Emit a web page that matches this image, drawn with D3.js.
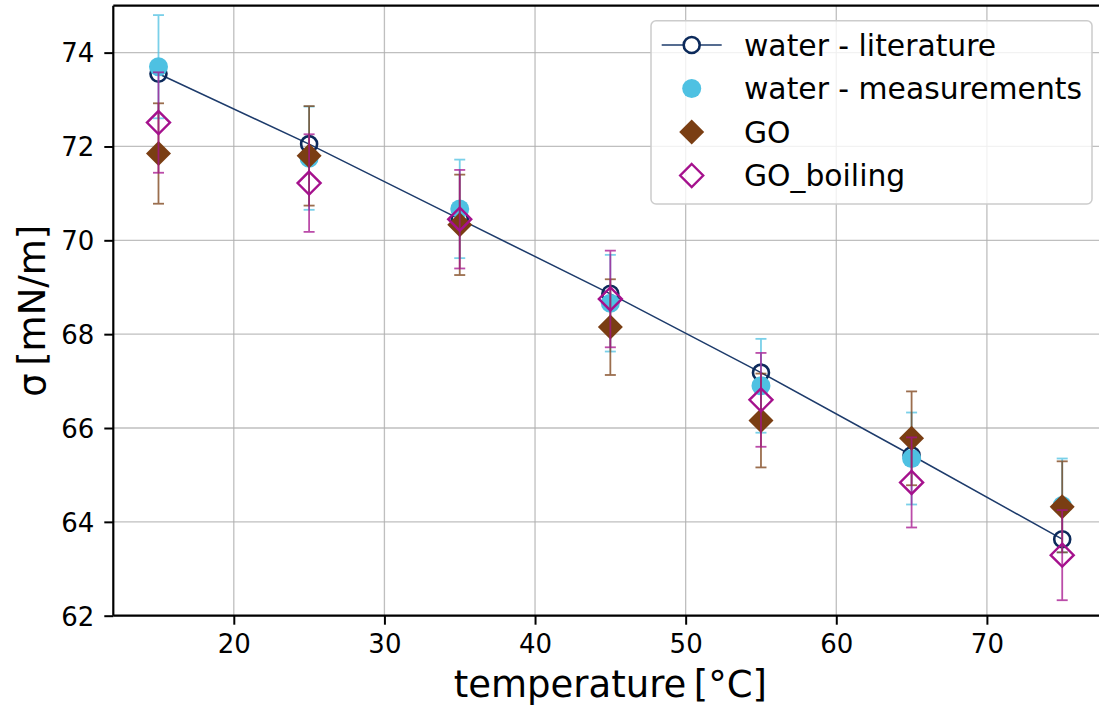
<!DOCTYPE html>
<html><head><meta charset="utf-8">
<script src="https://cdn.jsdelivr.net/npm/d3@7"></script>
<style>body{margin:0;background:#fff}svg{display:block;font-family:"DejaVu Sans",sans-serif}</style>
</head><body><svg id="c" width="1099" height="711"></svg>
<script>
const temps = [15,25,35,45,55,65,75];
const literature = [73.55,72.05,70.45,68.86,67.18,65.42,63.63];
const measurements = [73.70,71.75,70.67,68.66,66.90,65.35,64.35];
const measErr = [1.10,1.10,1.05,1.03,1.00,0.98,1.00];
const go = [71.85,71.80,70.33,68.15,66.16,65.78,64.32];
const goErr = [1.07,1.06,1.07,1.02,1.00,1.00,0.97];
const goBoiling = [72.51,71.22,70.45,68.75,66.60,64.84,63.29];
const goBoilingErr = [1.07,1.04,1.05,1.03,1.00,0.96,0.96];
const xTicks = [20,30,40,50,60,70];
const yTicks = [62,64,66,68,70,72,74];
const legendLabels = ["water - literature","water - measurements","GO","GO_boiling"];

const C = {navy:"#0c2a5b", line:"#1d3b6b", blue:"#4ec1e2", brown:"#7a3e13", mag:"#a5118d"};
const svg = d3.select("#c");
const L=113.3, R=1107.4, T=5.7, B=615.7;
const x = d3.scaleLinear().domain([12,78]).range([L,R]);
const y = d3.scaleLinear().domain([62,75]).range([B,T]);

// grid
const g = svg.append("g");
g.selectAll(".gx").data(xTicks).join("line").attr("x1",d=>x(d)).attr("x2",d=>x(d)).attr("y1",T).attr("y2",B)
 .attr("stroke","#b0b0b0").attr("stroke-width",1.3).attr("opacity",0.8);
g.selectAll(".gy").data(yTicks).join("line").attr("y1",d=>y(d)).attr("y2",d=>y(d)).attr("x1",L).attr("x2",R)
 .attr("stroke","#b0b0b0").attr("stroke-width",1.3).attr("opacity",0.8);

// axes
const xAxis = d3.axisBottom(x).tickValues(xTicks).tickSize(9).tickPadding(10).tickFormat(d3.format("d"));
const yAxis = d3.axisLeft(y).tickValues(yTicks).tickSize(9).tickPadding(10).tickFormat(d3.format("d"));
const ax = svg.append("g").attr("transform",`translate(0,${B})`).call(xAxis);
const ay = svg.append("g").attr("transform",`translate(${L},0)`).call(yAxis);
[ax,ay].forEach(a=>{
  a.select(".domain").remove();
  a.selectAll(".tick line").attr("stroke","#000").attr("stroke-width",2);
  a.selectAll(".tick text").attr("fill","#000").attr("font-size",26).attr("font-family","DejaVu Sans");
});
ay.selectAll(".tick text").attr("dy","0.36em");
// spines
svg.append("line").attr("x1",L).attr("x2",L).attr("y1",T).attr("y2",B).attr("stroke","#000").attr("stroke-width",2.2);
svg.append("line").attr("x1",L).attr("x2",R).attr("y1",B).attr("y2",B).attr("stroke","#000").attr("stroke-width",2.2);
svg.append("line").attr("x1",L).attr("x2",R).attr("y1",T).attr("y2",T).attr("stroke","#000").attr("stroke-width",2.2);

// axis labels
svg.append("text").attr("x",(L+R)/2).attr("y",697).attr("text-anchor","middle").attr("font-size",37).text("temperature\u2009[°C]");
svg.append("text").attr("transform",`translate(45,${(T+B)/2}) rotate(-90)`).attr("text-anchor","middle").attr("font-size",37).text("σ\u2009[mN/m]");

const plot = svg.append("g");
const idx = d3.range(temps.length);

// literature
plot.append("path").datum(idx).attr("fill","none").attr("stroke",C.line).attr("stroke-width",1.5)
 .attr("d",d3.line().x(i=>x(temps[i])).y(i=>y(literature[i])));
plot.selectAll(".lit").data(idx).join("circle").attr("cx",i=>x(temps[i])).attr("cy",i=>y(literature[i])).attr("r",8)
 .attr("fill","none").attr("stroke",C.navy).attr("stroke-width",2.6);

function errorbars(vals, errs, color){
  const eg = plot.append("g").attr("stroke",color).attr("opacity",0.75);
  eg.selectAll("line.v").data(idx).join("line").attr("x1",i=>x(temps[i])).attr("x2",i=>x(temps[i]))
    .attr("y1",i=>y(vals[i]-errs[i])).attr("y2",i=>y(vals[i]+errs[i])).attr("stroke-width",1.8);
  [-1,1].forEach(s=>{
    eg.selectAll("line.c"+(s>0?"p":"m")).data(idx).join("line").attr("x1",i=>x(temps[i])-5.5).attr("x2",i=>x(temps[i])+5.5)
      .attr("y1",i=>y(vals[i]+s*errs[i])).attr("y2",i=>y(vals[i]+s*errs[i])).attr("stroke-width",1.8);
  });
}
const diamond = r => `M0,${-r}L${r},0L0,${r}L${-r},0Z`;

errorbars(measurements, measErr, C.blue);
plot.selectAll(".meas").data(idx).join("circle").attr("cx",i=>x(temps[i])).attr("cy",i=>y(measurements[i])).attr("r",9.5).attr("fill",C.blue);

errorbars(go, goErr, C.brown);
plot.selectAll(".go").data(idx).join("path").attr("transform",i=>`translate(${x(temps[i])},${y(go[i])})`).attr("d",diamond(12.5)).attr("fill",C.brown);

errorbars(goBoiling, goBoilingErr, C.mag);
plot.selectAll(".gob").data(idx).join("path").attr("transform",i=>`translate(${x(temps[i])},${y(goBoiling[i])})`).attr("d",diamond(11.5))
 .attr("fill","none").attr("stroke",C.mag).attr("stroke-width",2.4);

// legend
const lg = svg.append("g");
lg.append("rect").attr("x",651).attr("y",20.7).attr("width",441).attr("height",183.3).attr("rx",5)
 .attr("fill","#fff").attr("fill-opacity",0.8).attr("stroke","#cccccc").attr("stroke-width",1.5);
const rowY = [45,88.5,132,175.5];
const hx = 691.7;
legendLabels.forEach((t,k)=>{
  const yy = rowY[k];
  if(k===0){
    lg.append("line").attr("x1",hx-30).attr("x2",hx+30).attr("y1",yy).attr("y2",yy).attr("stroke",C.line).attr("stroke-width",1.5);
    lg.append("circle").attr("cx",hx).attr("cy",yy).attr("r",8).attr("fill","#fff").attr("stroke",C.navy).attr("stroke-width",2.6);
  } else if(k===1){
    lg.append("circle").attr("cx",hx).attr("cy",yy).attr("r",9.5).attr("fill",C.blue);
  } else if(k===2){
    lg.append("path").attr("transform",`translate(${hx},${yy})`).attr("d",diamond(12.5)).attr("fill",C.brown);
  } else {
    lg.append("path").attr("transform",`translate(${hx},${yy})`).attr("d",diamond(11.5)).attr("fill","none").attr("stroke",C.mag).attr("stroke-width",2.4);
  }
  lg.append("text").attr("x",744).attr("y",yy).attr("dy","0.36em").attr("font-size",29.8).attr("fill","#000").text(t);
});
</script></body></html>
